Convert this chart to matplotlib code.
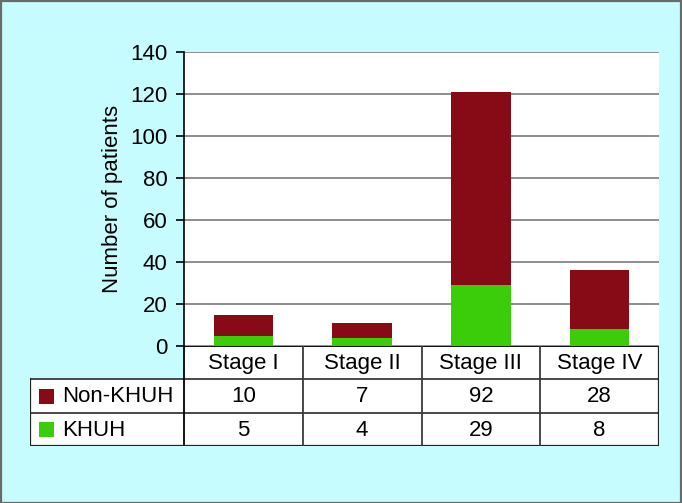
import matplotlib
matplotlib.use("Agg")
import matplotlib.pyplot as plt
from matplotlib.patches import Rectangle

plt.rcParams['font.family'] = ['Liberation Sans', 'DejaVu Sans']

stages = ["Stage I", "Stage II", "Stage III", "Stage IV"]
series_names = ["Non-KHUH", "KHUH"]
non_khuh = [10, 7, 92, 28]
khuh = [5, 4, 29, 8]
yticks = [0, 20, 40, 60, 80, 100, 120, 140]

RED = "#870b16"
GREEN = "#3ccd0a"
BG = "#c6fcfe"
FS = 16

W, H = 682, 503
fig = plt.figure(figsize=(W / 100, H / 100), dpi=100, facecolor=BG)

# figure border
fig.patches.append(Rectangle((0.5 / W, 0.5 / H), 1 - 1.5 / W, 1 - 1.5 / H, transform=fig.transFigure,
                             fill=False, edgecolor="#6a6a6a", linewidth=1.6))

def fx(px):
    return px / W

def fy(py):
    return 1 - py / H

left, right, top, zero = 184, 659, 52, 346
ax = fig.add_axes([fx(left), fy(zero), fx(right - left), (zero - top) / H])
ax.set_facecolor("white")
x = list(range(len(stages)))
ax.bar(x, khuh, width=0.5, color=GREEN, zorder=3)
ax.bar(x, non_khuh, bottom=khuh, width=0.5, color=RED, zorder=3)
ax.set_xlim(-0.5, 3.5)
ax.set_ylim(0, 140)
ax.set_yticks(yticks)
ax.set_yticklabels([str(v) for v in yticks], fontsize=16)
ax.set_xticks([])
ax.grid(axis="y", color="#7a7a7a", linewidth=1.2, zorder=1)
ax.tick_params(axis="y", length=6, width=1.2, pad=6)
for s in ["top", "right", "bottom"]:
    ax.spines[s].set_visible(False)
ax.spines["left"].set_linewidth(1.2)
ax.set_ylabel("Number of patients", fontsize=FS)
ax.yaxis.set_label_coords((123 - left) / (right - left), 0.5)

# table
tl, tr, tt, tb = 30, 659, 346, 446
row_y = [346, 379, 413, 446]
ncol = len(stages)
colw = (tr - left) / ncol
tax = fig.add_axes([fx(tl), fy(tb), fx(tr - tl), (tb - tt) / H])
tax.set_xlim(tl, tr)
tax.set_ylim(tb, tt)
tax.axis("off")
tax.patch.set_alpha(0)
# backgrounds
tax.add_patch(Rectangle((left, row_y[0]), tr - left, row_y[1] - row_y[0], facecolor="white", edgecolor="none"))
tax.add_patch(Rectangle((tl, row_y[1]), tr - tl, row_y[3] - row_y[1], facecolor="white", edgecolor="none"))
lc = "#3a3a3a"
lw = 1.3
tax.plot([left, tr], [row_y[0], row_y[0]], color="black", lw=1.3)
tax.plot([tl, tr], [row_y[1], row_y[1]], color=lc, lw=lw)
tax.plot([tl, tr], [row_y[2], row_y[2]], color=lc, lw=lw)
tax.plot([tl, tr], [row_y[3], row_y[3]], color="#222222", lw=1.6)
tax.plot([tl, tl], [row_y[1], row_y[3]], color="#222222", lw=1.6)
tax.plot([tr, tr], [row_y[0], row_y[3]], color="#222222", lw=1.6)
tax.plot([left, left], [row_y[0], row_y[3]], color="black", lw=1.3)
for i in range(1, ncol):
    xx = left + i * colw
    tax.plot([xx, xx], [row_y[0], row_y[3]], color=lc, lw=lw)
# header
for i, s in enumerate(stages):
    tax.text(left + (i + 0.5) * colw, (row_y[0] + row_y[1]) / 2 + 1, s, ha="center", va="center", fontsize=FS)
# rows
rows = [non_khuh, khuh]
colors = [RED, GREEN]
for r, (name, vals, c) in enumerate(zip(series_names, rows, colors)):
    yc = (row_y[r + 1] + row_y[r + 2]) / 2
    tax.add_patch(Rectangle((39, yc - 7.5), 15, 15, facecolor=c, edgecolor="none"))
    tax.text(62, yc + 1, name, ha="left", va="center", fontsize=FS)
    for i, v in enumerate(vals):
        tax.text(left + (i + 0.5) * colw, yc + 1, str(v), ha="center", va="center", fontsize=FS)

fig.savefig("out.png", dpi=100, facecolor=BG)
